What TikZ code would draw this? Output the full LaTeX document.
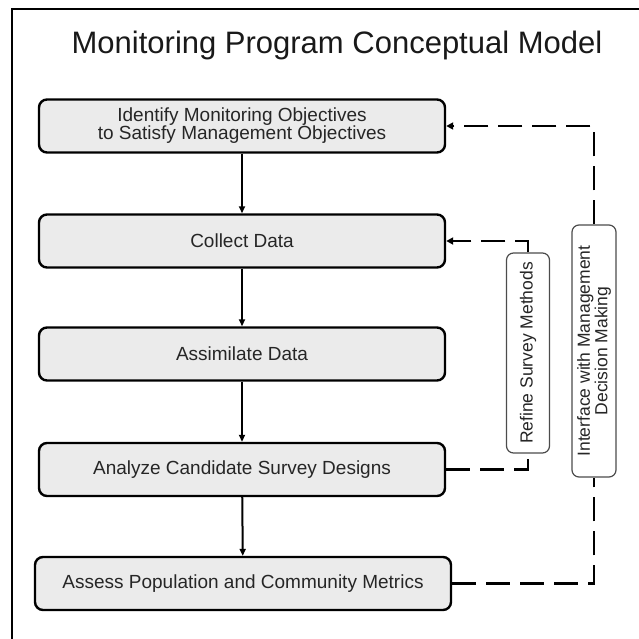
\documentclass[tikz,border=0pt]{standalone}
\usepackage{fontspec}
\setmainfont{Liberation Sans}
\usetikzlibrary{arrows.meta}

\begin{document}
\begin{tikzpicture}[x=1pt, y=-1pt,
  stage/.style={draw, line width=2.4pt, rounded corners=8pt, fill=black!8, minimum width=406pt, minimum height=53pt, align=center, inner sep=0pt, text=black!85, font=\fontsize{19}{18}\selectfont},
  loopbox/.style={draw=black!70, line width=1.2pt, rounded corners=7pt, rotate=90, align=center, inner sep=0pt, fill=white, text=black!85, font=\fontsize{17.5}{17.5}\selectfont},
  flow/.style={line width=2pt, -{Triangle[length=7pt, width=6pt]}},
  feedback/.style={line width=2.8pt, dash pattern=on 24pt off 10pt}]
  \clip (0,0) rectangle (639,639);
  \draw [line width=2pt] (12,660) -- (12,9) -- (660,9);
  \node (title) [anchor=base, font=\fontsize{31}{31}\selectfont, text=black!90] at (337,54) {Monitoring Program Conceptual Model};
  \node [stage] (identify) at (242,126) {Identify Monitoring Objectives\\to Satisfy Management Objectives};
  \node [stage] (collect) at (242,241) {Collect Data};
  \node [stage] (assimilate) at (242,354) {Assimilate Data};
  \node [stage] (analyze) at (242,469.5) {Analyze Candidate Survey Designs};
  \node [stage, minimum width=416pt] (assess) at (243,583.5) {Assess Population and Community Metrics};
  \node [loopbox, minimum width=200pt, minimum height=43pt] (refine) at (528,353) {Refine Survey Methods};
  \node [loopbox, minimum width=252pt, minimum height=44pt] (interface) at (594,351) {Interface with Management\\Decision Making};
  \draw [flow] (identify) -- (collect);
  \draw [flow] (collect) -- (assimilate);
  \draw [flow] (assimilate) -- (analyze);
  \draw [flow] (analyze) -- (assess);
  \draw [feedback] (analyze.east) -| (refine.west);
  \draw [feedback, -{Triangle[length=7pt, width=7pt]}] (refine.east) |- (collect.east);
  \draw [feedback] (assess.east) -| (interface.west);
  \draw [feedback, -{Triangle[length=7pt, width=7pt]}] (interface.east) |- (identify.east);
\end{tikzpicture}
\end{document}
